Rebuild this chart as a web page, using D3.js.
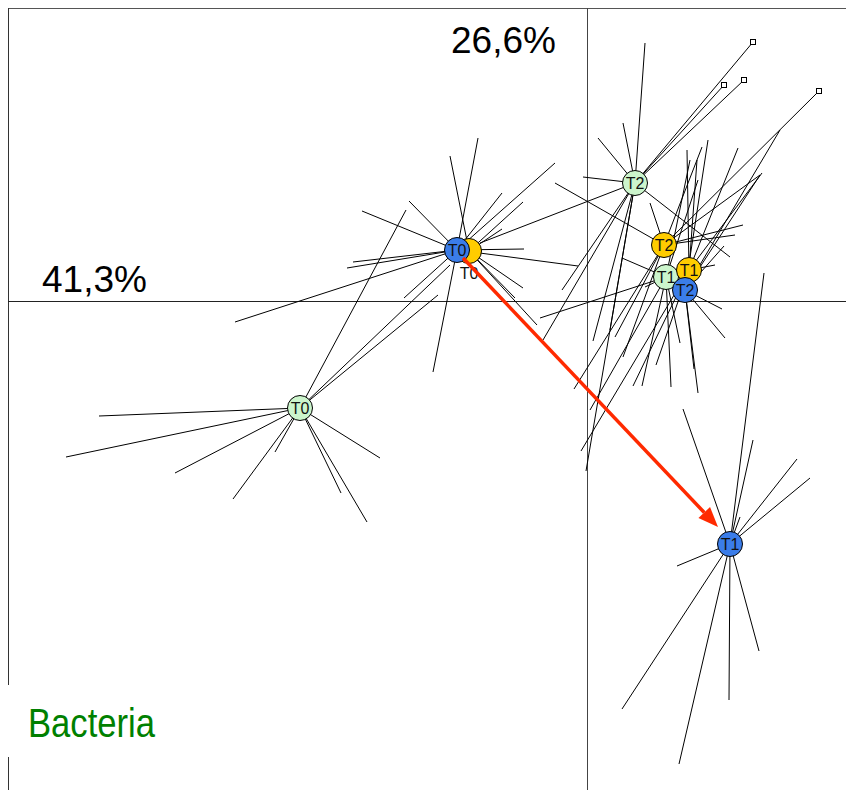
<!DOCTYPE html>
<html>
<head>
<meta charset="utf-8">
<script src="https://cdn.jsdelivr.net/npm/d3@7"></script>
<style>
  body { margin: 0; background: #fff; }
  svg { display: block; font-family: "Liberation Sans", Arial, sans-serif; }
</style>
</head>
<body>
<div id="chart"></div>
<script>
// group order = drawing order (green under yellow under blue)
const groups = ["G-T0", "G-T2", "G-T1", "Y-T0", "Y-T2", "Y-T1", "B-T0", "B-T2", "B-T1"];
const labels = ["T0", "T2", "T1", "T0", "T2", "T1", "T0", "T2", "T1"];
const fills = ["#ccf5cc", "#ccf5cc", "#ccf5cc", "#ffcc00", "#ffcc00", "#ffcc00", "#3b7de9", "#3b7de9", "#3b7de9"];

// centroids on axis 1 / axis 2
const centX = [-2.87, 0.48, 0.79, -1.18, 0.77, 1.02, -1.30, 0.98, 1.43];
const centY = [-1.07, 1.18, 0.24, 0.50, 0.56, 0.31, 0.51, 0.11, -2.43];
// label shift (only the hidden yellow T0 label is moved below)
const labelDy = [0, 0, 0, -0.22, 0, 0, 0, 0, 0];

// individual samples (x, y) per group
const samples = {
  "G-T0": [[-4.88,-1.15],[-5.21,-1.56],[-4.12,-1.72],[-3.54,-1.98],[-3.12,-1.51],[-2.46,-1.92],
           [-2.20,-2.21],[-2.07,-1.57],[-1.81,0.91],[-1.49,0.06],[-1.37,0.36]],
  "G-T2": [[0.58,2.58],[0.36,1.78],[0.11,1.63],[-0.04,1.24],[1.43,0.44],[-1.07,0.58],
           [-0.44,-0.39],[-0.25,0.11],[-0.01,-1.70],[0.06,-0.40],[0.23,-0.29]],
  "G-T1": [[0.35,0.43],[0.58,0.14],[0.55,-0.85],[0.84,-0.86],[1.03,1.41],[1.11,1.21],
           [0.93,-0.42],[-0.47,-0.17],[0.03,-1.09]],
  "Y-T0": [[-1.37,1.45],[-0.64,0.99],[-0.85,0.72],[-0.72,0.03],[-0.50,-0.24],[-0.64,0.13]],
  "Y-T2": [[-0.32,1.18],[0.63,0.98],[1.56,0.76],[1.48,0.66],[1.15,1.54],[0.28,-0.36],
           [-0.13,-0.88],[0.36,-0.56],[1.73,1.26]],
  "Y-T1": [[1.51,1.53],[1.75,1.28],[1.28,0.36],[1.10,1.41],[-0.06,-1.50],[0.69,-0.64],
           [0.46,-0.85],[1.00,1.51]],
  "B-T0": [[-1.09,1.63],[-1.78,1.00],[-2.25,0.90],[-2.34,0.39],[-3.52,-0.21],[-1.83,0.03],
           [-1.54,-0.71],[-0.85,1.08],[-0.32,1.38],[-0.09,0.35],[-0.63,0.52],[-2.40,0.33]],
  "B-T2": [[1.35,-0.08],[1.38,-0.37],[1.07,-0.68],[1.11,-0.92],[1.73,1.26],[1.93,1.71],
           [1.21,1.61],[1.37,0.55]],
  "B-T1": [[0.96,-1.08],[1.77,0.28],[1.66,-1.39],[1.53,-2.16],[2.10,-1.58],[2.23,-1.77],
           [0.90,-2.65],[0.35,-4.08],[0.92,-4.63],[1.42,-3.99],[1.72,-3.50]]
};
// samples drawn with a square marker, and the group they belong to
const squarePts = [[1.66,2.59],[1.37,2.16],[1.57,2.21],[2.32,2.10]];
const squareGroup = ["G-T2", "G-T2", "G-T2", "Y-T2"];

// shift of the blue group from T0 to T1
const arrowFrom = [-1.24, 0.43];
const arrowTo = [1.31, -2.26];

const axisPct1 = "41,3%";
const axisPct2 = "26,6%";
const title = "Bacteria";

const width = 846, height = 790;
const x = d3.scaleLinear().domain([-5.79, 2.59]).range([8, 846]);
const y = d3.scaleLinear().domain([2.93, -4.89]).range([8, 790]);

const svg = d3.select("#chart").append("svg")
  .attr("width", width)
  .attr("height", height);

// frame (top and left) and the two axes
svg.append("line").attr("x1", 8).attr("x2", width).attr("y1", 8.5).attr("y2", 8.5)
  .attr("stroke", "#555");
svg.append("line").attr("x1", 8.5).attr("x2", 8.5).attr("y1", 8).attr("y2", height)
  .attr("stroke", "#333");
svg.append("line").attr("x1", 8).attr("x2", width)
  .attr("y1", Math.round(y(0)) + 0.5).attr("y2", Math.round(y(0)) + 0.5)
  .attr("stroke", "#222");
svg.append("line").attr("x1", Math.round(x(0)) + 0.5).attr("x2", Math.round(x(0)) + 0.5)
  .attr("y1", 8).attr("y2", height)
  .attr("stroke", "#444");

// spokes
const spokes = [];
groups.forEach((g, i) => {
  samples[g].forEach(p => spokes.push({ cx: centX[i], cy: centY[i], px: p[0], py: p[1] }));
});
squarePts.forEach((p, k) => {
  const i = groups.indexOf(squareGroup[k]);
  spokes.push({ cx: centX[i], cy: centY[i], px: p[0], py: p[1] });
});
svg.append("g").selectAll("line")
  .data(spokes)
  .join("line")
    .attr("x1", d => x(d.cx)).attr("y1", d => y(d.cy))
    .attr("x2", d => x(d.px)).attr("y2", d => y(d.py))
    .attr("stroke", "#000")
    .attr("stroke-width", 1);

svg.append("g").selectAll("rect")
  .data(squarePts)
  .join("rect")
    .attr("x", d => x(d[0]) - 2.5).attr("y", d => y(d[1]) - 2.5)
    .attr("width", 5).attr("height", 5)
    .attr("fill", "#fff").attr("stroke", "#000");

// centroids
const cent = svg.append("g").selectAll("g")
  .data(groups)
  .join("g");
cent.append("circle")
  .attr("cx", (d, i) => x(centX[i]))
  .attr("cy", (d, i) => y(centY[i]))
  .attr("r", 12.5)
  .attr("fill", (d, i) => fills[i])
  .attr("stroke", "#000");
cent.append("text")
  .attr("x", (d, i) => x(centX[i]))
  .attr("y", (d, i) => y(centY[i] + labelDy[i]) + 6)
  .attr("text-anchor", "middle")
  .attr("font-size", 16)
  .attr("fill", "#111")
  .text((d, i) => labels[i]);

// red arrow
const ax1 = x(arrowFrom[0]), ay1 = y(arrowFrom[1]);
const ax2 = x(arrowTo[0]), ay2 = y(arrowTo[1]);
const ang = Math.atan2(ay2 - ay1, ax2 - ax1);
const headL = 20, headW = 8;
const bx = ax2 - headL * Math.cos(ang), by = ay2 - headL * Math.sin(ang);
svg.append("line")
  .attr("x1", ax1).attr("y1", ay1).attr("x2", bx).attr("y2", by)
  .attr("stroke", "#ff2a00").attr("stroke-width", 3.5);
svg.append("path")
  .attr("d", `M${ax2},${ay2}L${bx - headW * Math.sin(ang)},${by + headW * Math.cos(ang)}L${bx + headW * Math.sin(ang)},${by - headW * Math.cos(ang)}Z`)
  .attr("fill", "#ff2a00");

// percentages of inertia
svg.append("text").attr("x", 451).attr("y", 53)
  .attr("font-size", 37).attr("fill", "#000").text(axisPct2);
svg.append("text").attr("x", 42).attr("y", 292)
  .attr("font-size", 37).attr("fill", "#000").text(axisPct1);

// title box
svg.append("rect").attr("x", 0).attr("y", 685).attr("width", 170).attr("height", 72)
  .attr("fill", "#fff");
svg.append("text").attr("x", 28).attr("y", 737)
  .attr("font-size", 41).attr("fill", "#008000")
  .attr("textLength", 127).attr("lengthAdjust", "spacingAndGlyphs")
  .text(title);
</script>
</body>
</html>
